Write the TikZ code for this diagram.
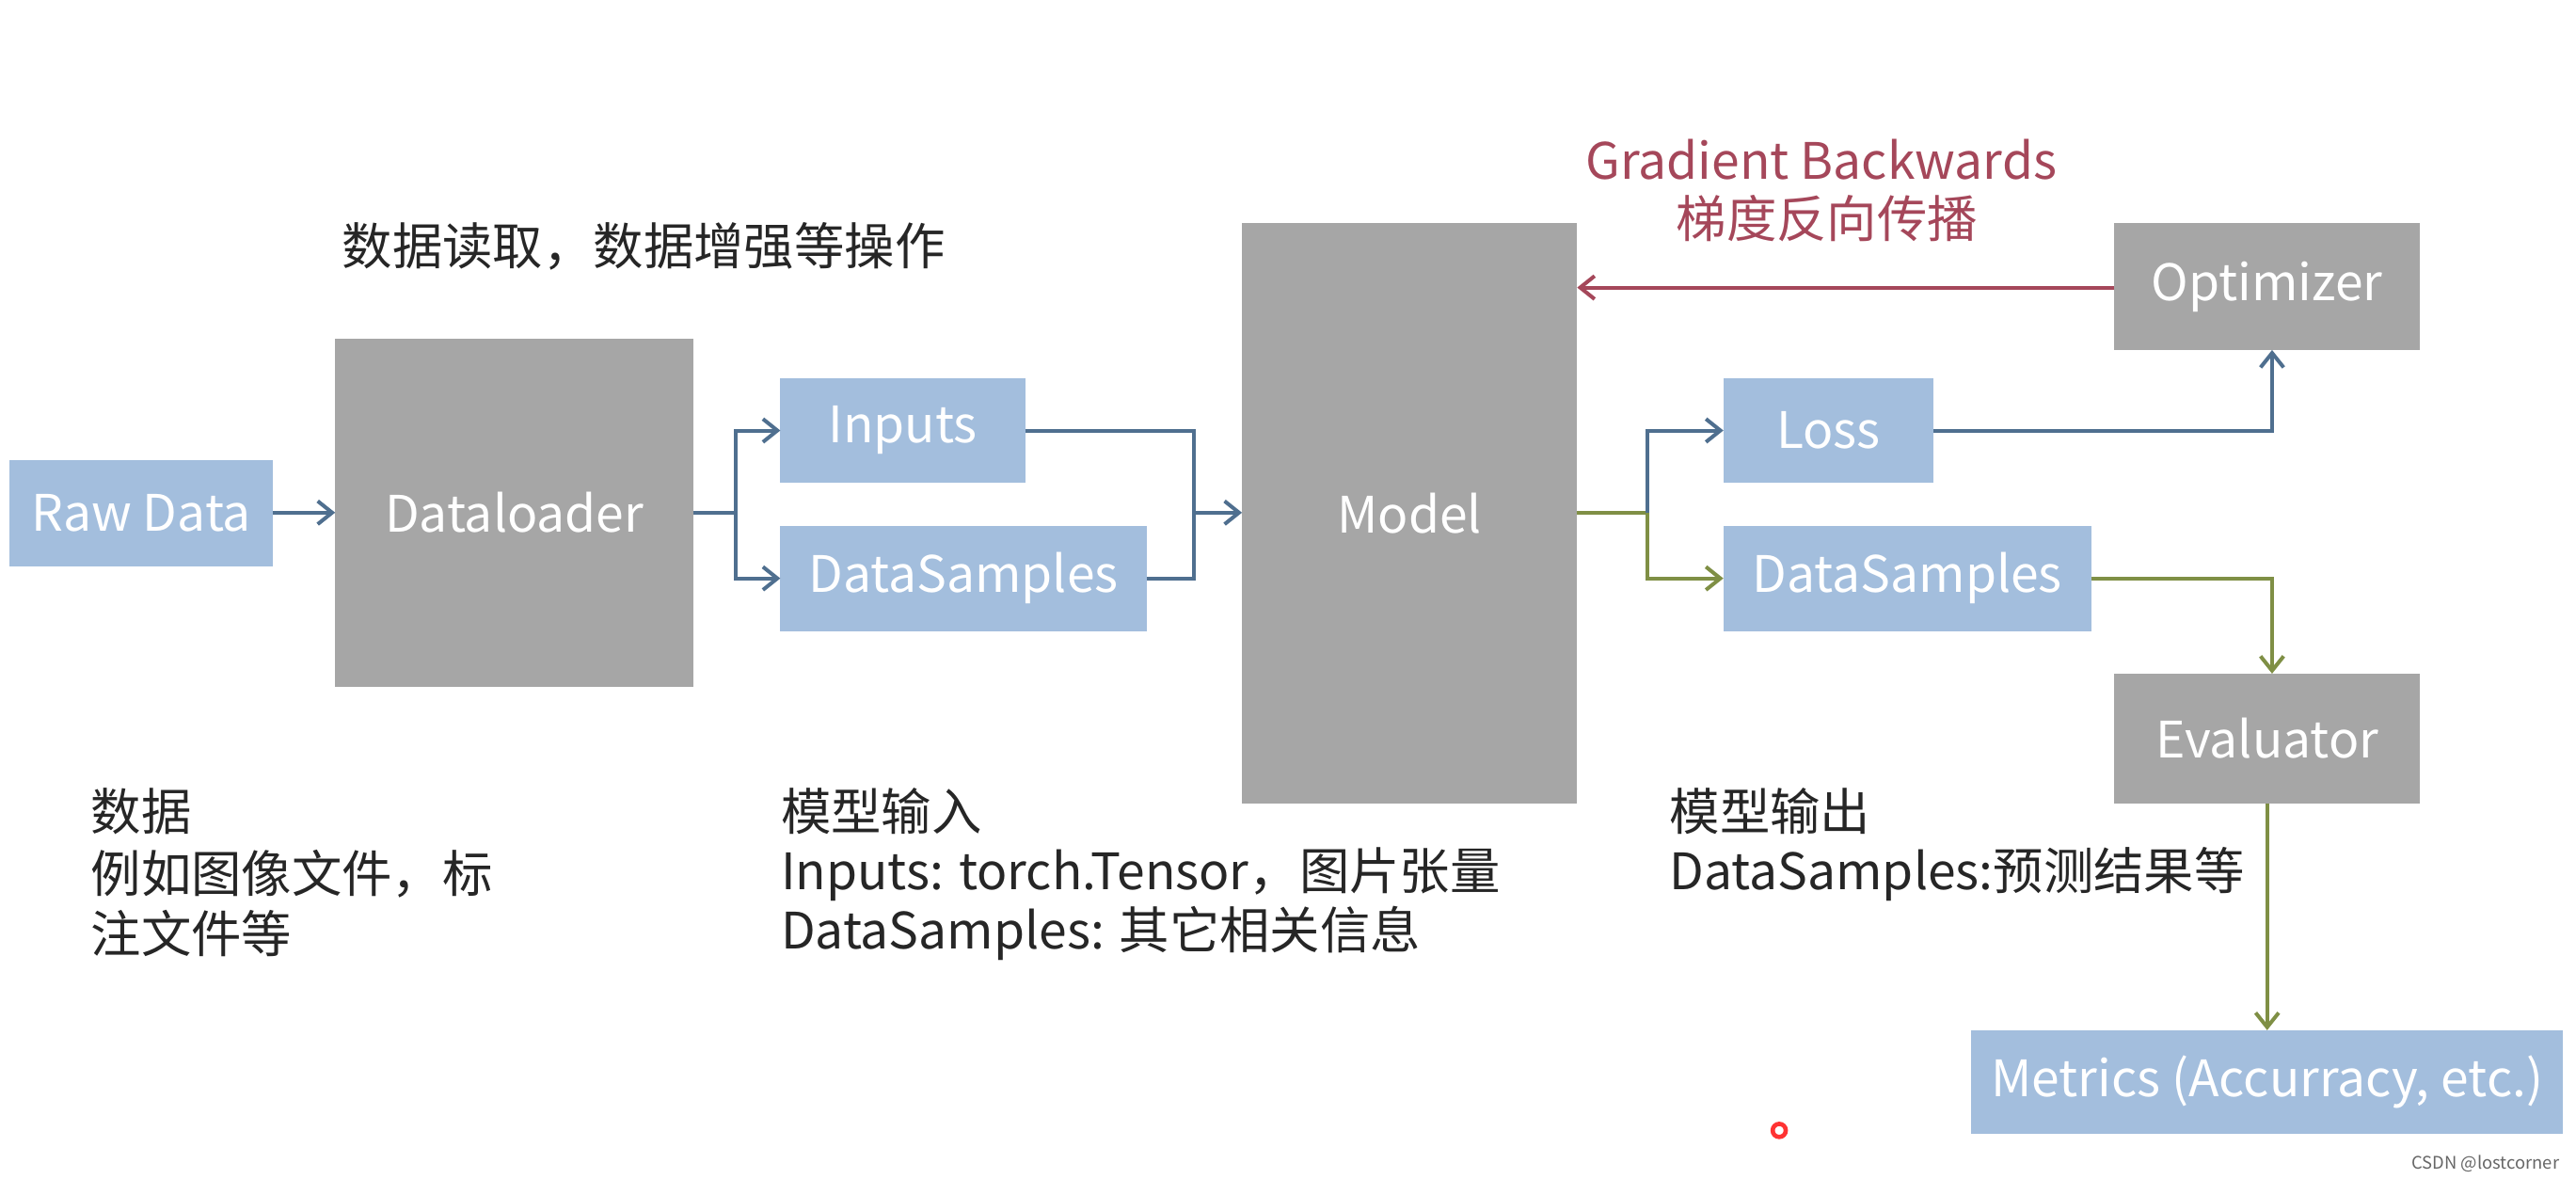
\documentclass[tikz,border=0pt]{standalone}
\usepackage{fontspec}
\setmainfont{Noto Sans CJK SC}
\usetikzlibrary{arrows.meta}
\begin{document}
\begin{tikzpicture}[x=0.02cm,y=-0.02cm,
  font=\fontsize{17.4}{21}\selectfont,
  blu/.style={fill=boxblue,draw=none,text=white},
  gry/.style={fill=boxgray,draw=none,text=white},
  ab/.style={draw=lblue,line width=1.3pt,-{Straight Barb[length=5pt,width=8pt]}},
  lb/.style={draw=lblue,line width=1.3pt},
  ag/.style={draw=lgreen,line width=1.3pt,-{Straight Barb[length=5pt,width=8pt]}},
  lg/.style={draw=lgreen,line width=1.3pt},
  ar/.style={draw=lred,line width=1.3pt,-{Straight Barb[length=5pt,width=8pt]}},
  txt/.style={anchor=west,inner sep=0pt,text=black!85}]
\definecolor{boxblue}{HTML}{A3BEDD}
\definecolor{boxgray}{HTML}{A6A6A6}
\definecolor{lblue}{HTML}{4F6F8F}
\definecolor{lgreen}{HTML}{7F8F45}
\definecolor{lred}{HTML}{A5475A}
\useasboundingbox (0,0) rectangle (1568,717);
\fill[white] (0,0) rectangle (1568,717);
\path[blu] (6,280) rectangle node (raw) {Raw Data} (166,345);
\path[gry] (204,206) rectangle node (dl) {Dataloader} (422,418);
\path[blu] (475,230) rectangle node (inp) {Inputs} (624,294);
\path[blu] (475,320) rectangle node (ds1) {DataSamples} (698,384);
\path[gry] (756,136) rectangle node (model) {Model} (960,489);
\path[blu] (1049,230) rectangle node (loss) {Loss} (1177,294);
\path[blu] (1049,320) rectangle node (ds2) {DataSamples} (1273,384);
\path[gry] (1287,136) rectangle node (opt) {Optimizer} (1473,213);
\path[gry] (1287,410) rectangle node (ev) {Evaluator} (1473,489);
\path[blu] (1200,627) rectangle node (met) {Metrics (Accurracy, etc.)} (1560,690);
\coordinate (a) at (448,312);
\coordinate (b) at (727,312);
\coordinate (c) at (1003,312);
\draw[ab] (166,312) -- (204,312);
\draw[lb] (422,312) -- (a);
\draw[ab] (a) |- (475,262);
\draw[ab] (a) |- (475,352);
\draw[lb] (624,262) -| (b);
\draw[lb] (698,352) -| (b);
\draw[ab] (b) -- (756,312);
\draw[lg] (960,312) -- (c);
\draw[ab] (c) |- (1049,262);
\draw[ag] (c) |- (1049,352);
\draw[ab] (1177,262) -| (1383,213);
\draw[ar] (1287,175) -- (960,175);
\draw[ag] (1273,352) -| (1383,410);
\draw[ag] (1380,489) -- (1380,627);
\node[txt] (t1) at (208,150) {数据读取，数据增强等操作};
\node[txt,text=lred] (t2) at (965,97) {Gradient Backwards};
\node[txt,text=lred] (t3) at (1020,133) {梯度反向传播};
\node[txt] (t4) at (55,494) {数据};
\node[txt] (t5) at (55,532) {例如图像文件，标};
\node[txt] (t6) at (55,568) {注文件等};
\node[txt] (t7) at (475,494) {模型输入};
\node[txt] (t8) at (475,532) {Inputs: torch.Tensor，图片张量};
\node[txt] (t9) at (475,568) {DataSamples: 其它相关信息};
\node[txt] (t10) at (1016,494) {模型输出};
\node[txt] (t11) at (1016,532) {DataSamples:预测结果等};
\draw[red!80,line width=1.5pt] (1083,688) circle (4);
\node[anchor=east,font=\fontsize{6}{7}\selectfont,text=black!60] (wm) at (1564,708) {CSDN @lostcorner};
\end{tikzpicture}
\end{document}
